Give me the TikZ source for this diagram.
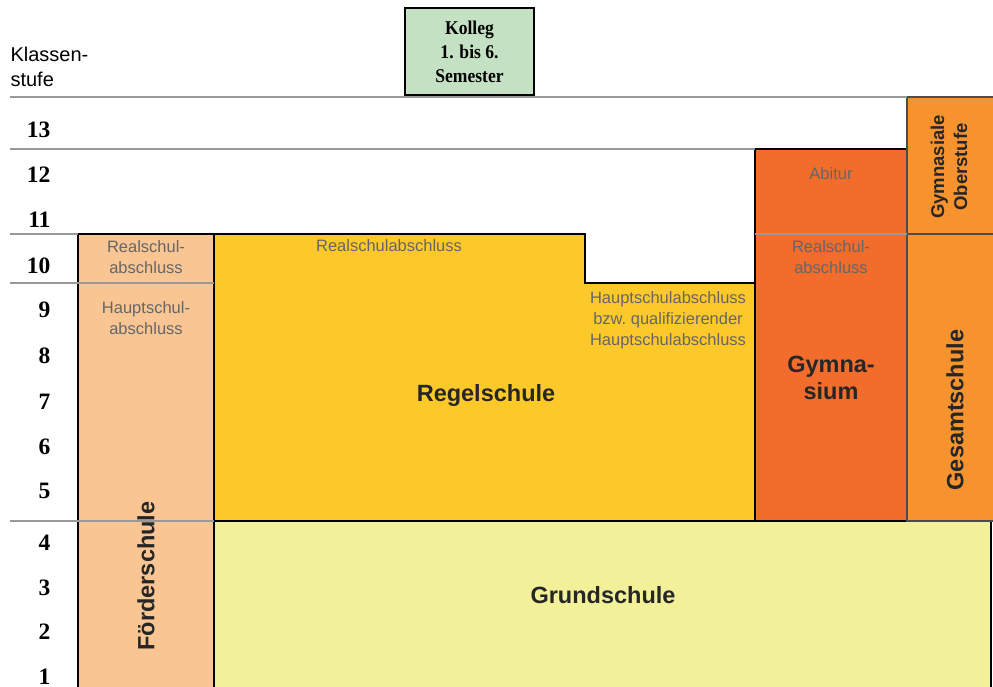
\documentclass[tikz,border=0pt]{standalone}
\usepackage{fontspec}
\setmainfont{Liberation Sans}
\newfontfamily\gradefont{Liberation Serif}
\newfontfamily\kollegfont[FakeStretch=0.9]{Liberation Serif}
\definecolor{foerder}{HTML}{F9C593}
\definecolor{regel}{HTML}{FCC82A}
\definecolor{grund}{HTML}{F3F09A}
\definecolor{gymn}{HTML}{F26C2C}
\definecolor{gesamt}{HTML}{F7932E}
\definecolor{kolleg}{HTML}{C5E1C4}
\definecolor{hintgray}{HTML}{666666}
\tikzset{
	stage/.style={draw=black!40, line width=1.5pt},
	schoolbox/.style={draw=black, line width=1.3pt},
	grade/.style={anchor=east, font=\gradefont\bfseries\fontsize{23.5}{26}\selectfont},
	hint/.style={text=hintgray, align=center, font=\fontsize{16.5}{21}\selectfont},
	school/.style={align=center, text=black!85, font=\bfseries\fontsize{23.5}{27}\selectfont},
}

\begin{document}
\begin{tikzpicture}[x=1pt, y=-1pt]
	%%%%% START %%%%%
	\useasboundingbox (0, 0) rectangle (993, 687);
	
	% Schularten
	\draw[schoolbox, fill=foerder] (78, 234) rectangle (214, 700);
	\draw[schoolbox, fill=regel] (214, 234) -- (585, 234) -- (585, 283) -- (755, 283) -- (755, 521) -- (214, 521) -- cycle;
	\draw[schoolbox, fill=grund] (214, 521) rectangle (991, 700);
	\draw[schoolbox, fill=gymn] (755, 149) rectangle (907, 521);
	\draw[schoolbox, draw=black!70, fill=gesamt] (907, 234) rectangle (996, 521);
	\draw[schoolbox, draw=black!70, fill=gesamt] (907, 97) rectangle (996, 234);
	
	% Klassenstufen
	\draw[stage] (10, 97) -- (907, 97);
	\draw[stage] (10, 149) -- (755, 149);
	\draw[stage] (10, 234) -- (78, 234);
	\draw[stage] (755, 234) -- (907, 234);
	\draw[stage] (10, 283) -- (214, 283);
	\draw[stage] (10, 521) -- (214, 521);
	
	\node[anchor=west, align=left, font=\fontsize{20}{25}\selectfont] (stufe) at (7, 67) {Klassen-\\stufe};
	\foreach \g/\y in {13/130, 12/175, 11/220, 10/266, 9/310, 8/356, 7/402, 6/447, 5/491, 4/543, 3/588, 2/632, 1/677}
		\node[grade] (g\g) at (54, \y) {\g};
	
	\node[draw=black, line width=1.3pt, fill=kolleg, minimum width=129, minimum height=87, align=center, font=\kollegfont\bfseries\fontsize{19.5}{24}\selectfont] (kolleg) at (469.5, 51.5) {Kolleg\\1. bis 6.\\Semester};
	
	% Abschluesse
	\node[hint] (fRealschul) at (146, 257) {Realschul-\\abschluss};
	\node[hint] (fHauptschul) at (146, 318.5) {Hauptschul-\\abschluss};
	\node[hint] (rRealschul) at (389, 246) {Realschulabschluss};
	\node[hint] (rHauptschul) at (668, 320) {Hauptschulabschluss\\bzw.\ qualifizierender\\Hauptschulabschluss};
	\node[hint] (abitur) at (831, 174) {Abitur};
	\node[hint] (gRealschul) at (831, 257) {Realschul-\\abschluss};
	
	% Namen
	\node[school, rotate=90] (foerderschule) at (146, 576) {Förderschule};
	\node[school] (regelschule) at (486, 395) {Regelschule};
	\node[school] (grundschule) at (603, 595) {Grundschule};
	\node[school] (gymnasium) at (831, 377.5) {Gymna-\\sium};
	\node[school, rotate=90] (gesamtschule) at (955, 410) {Gesamtschule};
	\node[school, rotate=90, font=\bfseries\fontsize{18.5}{23}\selectfont] (oberstufe) at (949, 167) {Gymnasiale\\Oberstufe};
	%%%%% END %%%%%
\end{tikzpicture}
\end{document}
